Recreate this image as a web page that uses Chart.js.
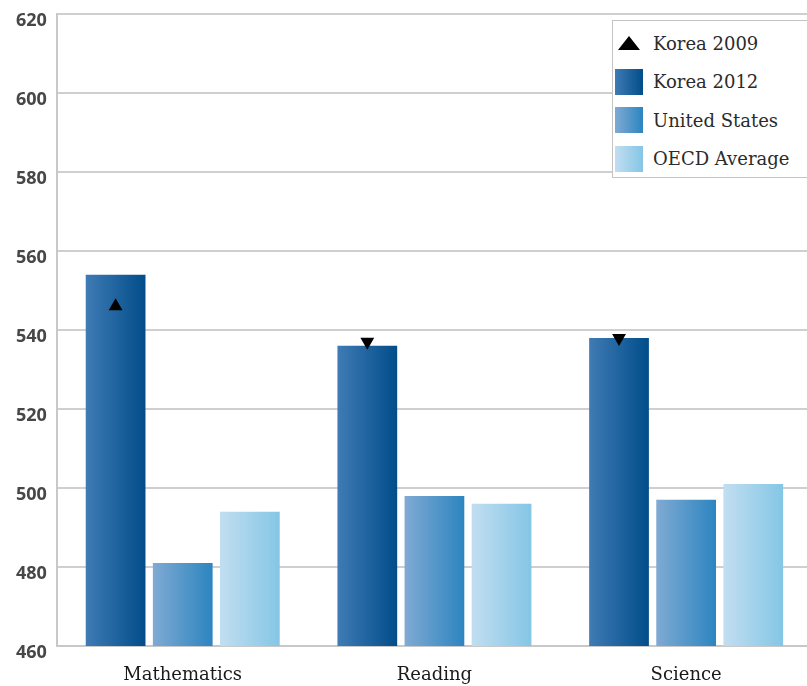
<!DOCTYPE html>
<html>
<head>
<meta charset="utf-8">
<script src="https://cdn.jsdelivr.net/npm/chart.js@4"></script>
<style>
    html, body { margin: 0; padding: 0; background: #fff; overflow: hidden; }
    #wrap { position: relative; width: 820px; height: 686px; }
    #legend {
        position: absolute; left: 612px; top: 20px; width: 220px; height: 158px;
        border: 1.5px solid #c4c4c4; background: #fff; box-sizing: border-box;
        font-family: "DejaVu Serif", serif; font-size: 18px; color: #2b2b2b;
        padding-top: 3px;
    }
    .item { display: flex; align-items: center; height: 38.5px; }
    .swatch { width: 28px; height: 26px; margin-left: 2px; margin-right: 10px; }
    .tri { width: 0; height: 0; margin-left: 5px; margin-right: 13px;
           border-left: 11px solid transparent; border-right: 11px solid transparent; border-bottom: 14px solid #000; }
</style>
</head>
<body>
<div id="wrap">
    <canvas id="pisaChart" width="820" height="686"></canvas>
    <div id="legend"></div>
</div>
<script>
'use strict';

const categories = ['Mathematics', 'Reading', 'Science'];
const korea2009 = [546, 537, 538];
const korea2012 = [554, 536, 538];
const unitedStates = [481, 498, 497];
const oecdAverage = [494, 496, 501];
const yMin = 460, yMax = 620, yStep = 20;

const colors = {
    korea: ['#3f7bb4', '#014d8a'],
    us: ['#80aad3', '#2c85c0'],
    oecd: ['#c2def1', '#84c6e5']
};

function barGradient(pair) {
    return function (ctx) {
        const el = ctx.element;
        if (ctx.type !== 'data' || !el || !el.width) {
            return pair[1];
        }
        const g = ctx.chart.ctx.createLinearGradient(el.x - el.width / 2, 0, el.x + el.width / 2, 0);
        g.addColorStop(0, pair[0]);
        g.addColorStop(1, pair[1]);
        return g;
    };
}

// put the 2009 markers on top of the Korea 2012 bar of each group
const markerOnBar = {
    id: 'markerOnBar',
    afterDatasetsUpdate(chart) {
        const pts = chart.getDatasetMeta(0).data;
        const bars = chart.getDatasetMeta(1).data;
        pts.forEach((p, i) => { if (bars[i]) p.x = bars[i].x; });
    }
};

const chart = new Chart('pisaChart', {
    data: {
        labels: categories,
        datasets: [{
            type: 'line',
            label: 'Korea 2009',
            data: korea2009,
            showLine: false,
            pointStyle: 'triangle',
            pointRadius: 8,
            pointRotation: korea2009.map((v, i) => v < korea2012[i] ? 0 : 180),
            backgroundColor: '#000',
            borderColor: '#000',
            borderWidth: 0
        }, {
            type: 'bar',
            label: 'Korea 2012',
            data: korea2012,
            backgroundColor: barGradient(colors.korea)
        }, {
            type: 'bar',
            label: 'United States',
            data: unitedStates,
            backgroundColor: barGradient(colors.us)
        }, {
            type: 'bar',
            label: 'OECD Average',
            data: oecdAverage,
            backgroundColor: barGradient(colors.oecd)
        }]
    },
    options: {
        responsive: false,
        animation: false,
        categoryPercentage: 0.8,
        barPercentage: 0.89,
        layout: { padding: { left: 6, top: 14, right: 4, bottom: 0 } },
        plugins: {
            legend: { display: false },
            tooltip: { enabled: false }
        },
        scales: {
            x: {
                grid: { display: false, drawTicks: false },
                border: { color: '#c8c8c8', width: 2 },
                ticks: {
                    color: '#1a1a1a',
                    padding: 19,
                    font: { family: '"DejaVu Serif", serif', size: 18 }
                },
                afterFit(scale) { scale.height = 40; }
            },
            y: {
                min: yMin,
                max: yMax,
                ticks: {
                    stepSize: yStep,
                    color: '#474747',
                    padding: 10,
                    labelOffset: 7,
                    font: { family: '"Open Sans", sans-serif', size: 18, weight: '700' }
                },
                grid: { color: '#cfcfcf', lineWidth: 2, drawTicks: false },
                border: { color: '#c8c8c8', width: 2 },
                afterFit(scale) { scale.paddingTop = 0; scale.paddingBottom = 0; }
            }
        }
    },
    plugins: [markerOnBar]
});
chart.update();

// legend box
const legend = document.getElementById('legend');
chart.data.datasets.forEach((ds, i) => {
    const item = document.createElement('div');
    item.className = 'item';
    const mark = document.createElement('div');
    if (ds.type === 'line') {
        mark.className = 'tri';
    } else {
        const pair = [colors.korea, colors.us, colors.oecd][i - 1];
        mark.className = 'swatch';
        mark.style.background = 'linear-gradient(to right, ' + pair[0] + ', ' + pair[1] + ')';
    }
    const txt = document.createElement('span');
    txt.textContent = ds.label;
    item.appendChild(mark);
    item.appendChild(txt);
    legend.appendChild(item);
});
</script>
</body>
</html>
